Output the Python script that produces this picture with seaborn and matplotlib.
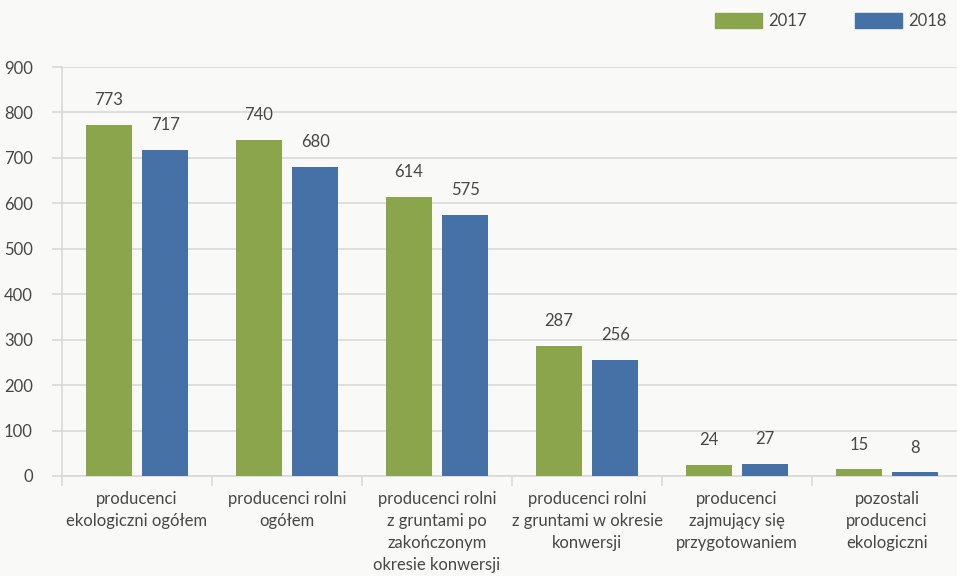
import pandas as pd
import matplotlib
matplotlib.use('Agg')
import matplotlib.pyplot as plt
import seaborn as sns

# data
categories = [
    "producenci\nekologiczni ogółem",
    "producenci rolni\nogółem",
    "producenci rolni\nz gruntami po\nzakończonym\nokresie konwersji",
    "producenci rolni\nz gruntami w okresie\nkonwersji",
    "producenci\nzajmujący się\nprzygotowaniem",
    "pozostali\nproducenci\nekologiczni",
]
values_2017 = [773, 740, 614, 287, 24, 15]
values_2018 = [717, 680, 575, 256, 27, 8]
years = ["2017", "2018"]
yticks = [0, 100, 200, 300, 400, 500, 600, 700, 800, 900]

df = pd.DataFrame({
    "kategoria": categories * 2,
    "rok": [years[0]] * len(categories) + [years[1]] * len(categories),
    "liczba": values_2017 + values_2018,
})

bg = "#f9faf7"
grid_col = "#d9d9d9"
text_col = "#474747"
colors = ["#8aa54c", "#4571a6"]
fs = 12

sns.set_theme(style="white")
plt.rcParams['font.family'] = ['Lato', 'DejaVu Sans']

fig = plt.figure(figsize=(9.57, 5.76), dpi=100, facecolor=bg)
ax = fig.add_axes([62 / 957, 1 - 476 / 576, 900 / 957, 409 / 576])
ax.set_facecolor(bg)

sns.barplot(data=df, x="kategoria", y="liczba", hue="rok",
            palette=colors, width=0.75, gap=0.17, linewidth=0,
            saturation=1, ax=ax, zorder=3)

for cont in ax.containers:
    ax.bar_label(cont, padding=12, fontsize=fs, color=text_col)

ax.set_xlim(-0.5, 5.5)
ax.set_ylim(0, 900)
ax.set_yticks(yticks)
ax.yaxis.grid(True, color=grid_col, linewidth=1.2, zorder=0)
ax.set_xlabel("")
ax.set_ylabel("")

# category separators below the axis
ax.set_xticks([i - 0.5 for i in range(len(categories))], minor=False)
ax.set_xticklabels([])
ax.set_xticks(range(len(categories)), minor=True)
ax.set_xticklabels(categories, minor=True, linespacing=1.45)
ax.tick_params(axis="x", which="major", length=7, width=1.2, color=grid_col, bottom=True)
ax.tick_params(axis="x", which="minor", length=0, pad=11, labelsize=fs, labelcolor=text_col)
ax.tick_params(axis="y", length=7, width=1.2, color=grid_col, left=True,
               labelsize=fs, labelcolor=text_col, pad=14)

for side in ["top", "right"]:
    ax.spines[side].set_visible(False)
for side in ["left", "bottom"]:
    ax.spines[side].set_color(grid_col)
    ax.spines[side].set_linewidth(1.2)

ax.get_legend().remove()
handles = [plt.Rectangle((0, 0), 1, 1, color=c) for c in colors]
fig.legend(handles, years, loc="center right", bbox_to_anchor=(947 / 957, 1 - 21 / 576),
           ncol=2, frameon=False, borderpad=0, borderaxespad=0,
           handlelength=2.8, handleheight=1.0, columnspacing=2.9,
           handletextpad=0.4, fontsize=fs, labelcolor=text_col)

fig.savefig("out.png", dpi=100, facecolor=bg)
